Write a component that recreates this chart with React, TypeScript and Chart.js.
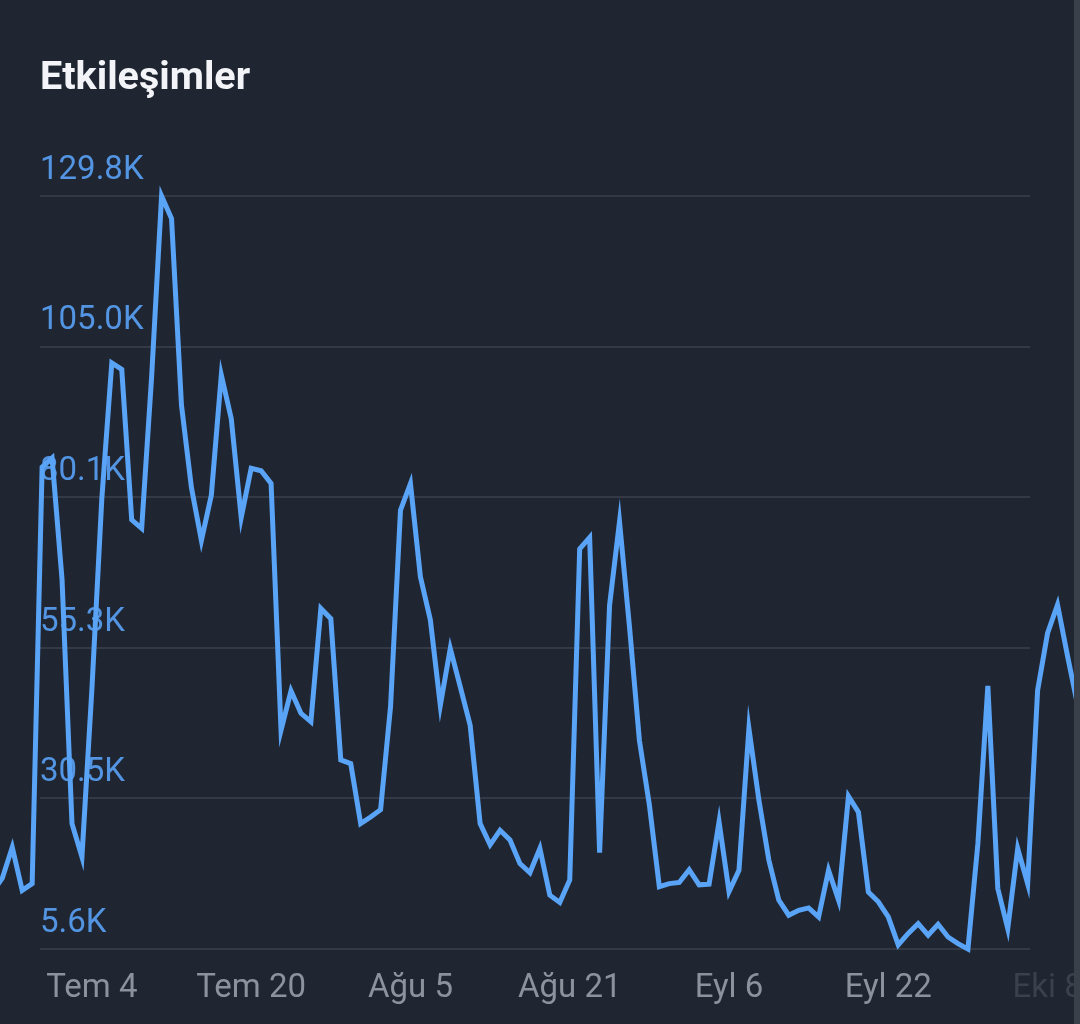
import React, { useEffect, useRef } from 'react';
import { Chart, registerables } from 'chart.js';

Chart.register(...registerables);

// ---- data ----
function dayRange(month: string, from: number, to: number): string[] {
  const out: string[] = [];
  for (let d = from; d <= to; d++) out.push(`${month} ${d}`);
  return out;
}

const dates: string[] = [
  ...dayRange('Haz', 24, 30),
  ...dayRange('Tem', 1, 31),
  ...dayRange('Ağu', 1, 31),
  ...dayRange('Eyl', 1, 30),
  ...dayRange('Eki', 1, 11),
];

const interactions: number[] = [
  15000, 17300, 22400, 15300, 16400, 85100, 86600, 66600, 26300, 20800,
  48500, 80000, 102300, 101200, 76400, 75000, 100000, 129820, 126100, 95300,
  81700, 73000, 80500, 100300, 93100, 76800, 84900, 84500, 82400, 41700,
  48200, 44500, 43100, 61800, 60100, 36800, 36200, 26300, 27400, 28600,
  45600, 78000, 82400, 67000, 59900, 45800, 55200, 48900, 42500, 26300,
  22800, 25200, 23600, 19700, 18200, 22200, 14500, 13300, 17000, 71600,
  73500, 21500, 62300, 76100, 58800, 40000, 29400, 15900, 16400, 16600,
  18700, 16200, 16300, 26600, 15100, 18600, 42000, 30200, 20300, 13700,
  11200, 12000, 12400, 10900, 18600, 13700, 30800, 28200, 15000, 13400,
  10900, 6300, 8200, 9800, 7900, 9700, 7600, 6500, 5620, 23000,
  49000, 15600, 9000, 22200, 16400, 48300, 57700, 62400, 54000, 46000,
];

const tickDates: string[] = ['Tem 4', 'Tem 20', 'Ağu 5', 'Ağu 21', 'Eyl 6', 'Eyl 22', 'Eki 8'];

const yMin = 5620;
const yMax = 129820;
const yTickCount = 6;

// visible window of the scrolled chart (in day indexes)
const viewStart = 4.787;
const viewEnd = 104.235;

// ---- styles ----
const BG = '#1f2632';
const LINE = '#5aa4f7';
const Y_LABEL = '#5395e3';
const X_LABEL = '#8b929c';
const X_LABEL_FADED = '#3a414d';
const GRID = '#333a46';
const TITLE = '#f2f4f7';
const FONT = 'Roboto';

export default function App() {
  const canvasRef = useRef<HTMLCanvasElement | null>(null);

  useEffect(() => {
    const canvas = canvasRef.current;
    if (!canvas) return;
    const tickIdx = tickDates.map((d) => dates.indexOf(d));
    const yTicks: number[] = [];
    for (let k = 0; k < yTickCount; k++) yTicks.push(yMin + ((yMax - yMin) * k) / (yTickCount - 1));

    const chart = new Chart(canvas, {
      type: 'line',
      data: {
        datasets: [
          {
            label: 'Etkileşimler',
            data: interactions.map((v, i) => ({ x: i, y: v })),
            borderColor: LINE,
            borderWidth: 5,
            pointRadius: 0,
            tension: 0,
            fill: false,
            clip: false as any,
          },
        ],
      },
      options: {
        responsive: false,
        maintainAspectRatio: false,
        animation: false,
        devicePixelRatio: 1,
        layout: { padding: { left: 40, right: 50, top: 0, bottom: 0 } },
        plugins: {
          legend: { display: false },
          tooltip: { enabled: false },
          title: {
            display: true,
            text: 'Etkileşimler',
            align: 'start',
            color: TITLE,
            font: { family: FONT, size: 39.5, weight: 'bold', lineHeight: 1.2 },
            padding: { top: 55.6, bottom: 93 },
          },
        },
        scales: {
          x: {
            type: 'linear',
            bounds: 'data',
            afterDataLimits: (s: any) => {
              s.min = viewStart;
              s.max = viewEnd;
            },
            afterBuildTicks: (s: any) => {
              s.ticks = tickIdx.map((v) => ({ value: v }));
            },
            afterFit: (s: any) => {
              s.paddingLeft = 0;
              s.paddingRight = 0;
              s.height = 75;
            },
            grid: { display: false, drawTicks: false },
            border: { display: false },
            ticks: {
              autoSkip: false,
              maxRotation: 0,
              minRotation: 0,
              padding: 20,
              color: (ctx: any) => (ctx.index === tickDates.length - 1 ? X_LABEL_FADED : X_LABEL),
              font: { family: FONT, size: 33 },
              callback: (v: any) => dates[Math.round(Number(v))],
            },
          },
          y: {
            type: 'linear',
            position: 'left',
            min: yMin,
            max: yMax,
            afterBuildTicks: (s: any) => {
              s.ticks = yTicks.map((v) => ({ value: v }));
            },
            border: { display: false },
            grid: { color: GRID, lineWidth: 2, drawTicks: false },
            ticks: {
              mirror: true,
              padding: 0,
              labelOffset: -25.5,
              color: Y_LABEL,
              font: { family: FONT, size: 33 },
              callback: (v: any) => (Number(v) / 1000).toFixed(1) + 'K',
            },
          },
        },
      } as any,
    });
    return () => chart.destroy();
  }, []);

  return (
    <div
      style={{
        position: 'absolute',
        left: 0,
        top: 0,
        width: 1080,
        height: 1024,
        background: BG,
        overflow: 'hidden',
      }}
    >
      <canvas ref={canvasRef} width={1080} height={1024} style={{ width: 1080, height: 1024, display: 'block' }} />
      <div style={{ position: 'absolute', left: 1074, top: 0, width: 6, height: 1024, background: '#3a404a' }} />
    </div>
  );
}
